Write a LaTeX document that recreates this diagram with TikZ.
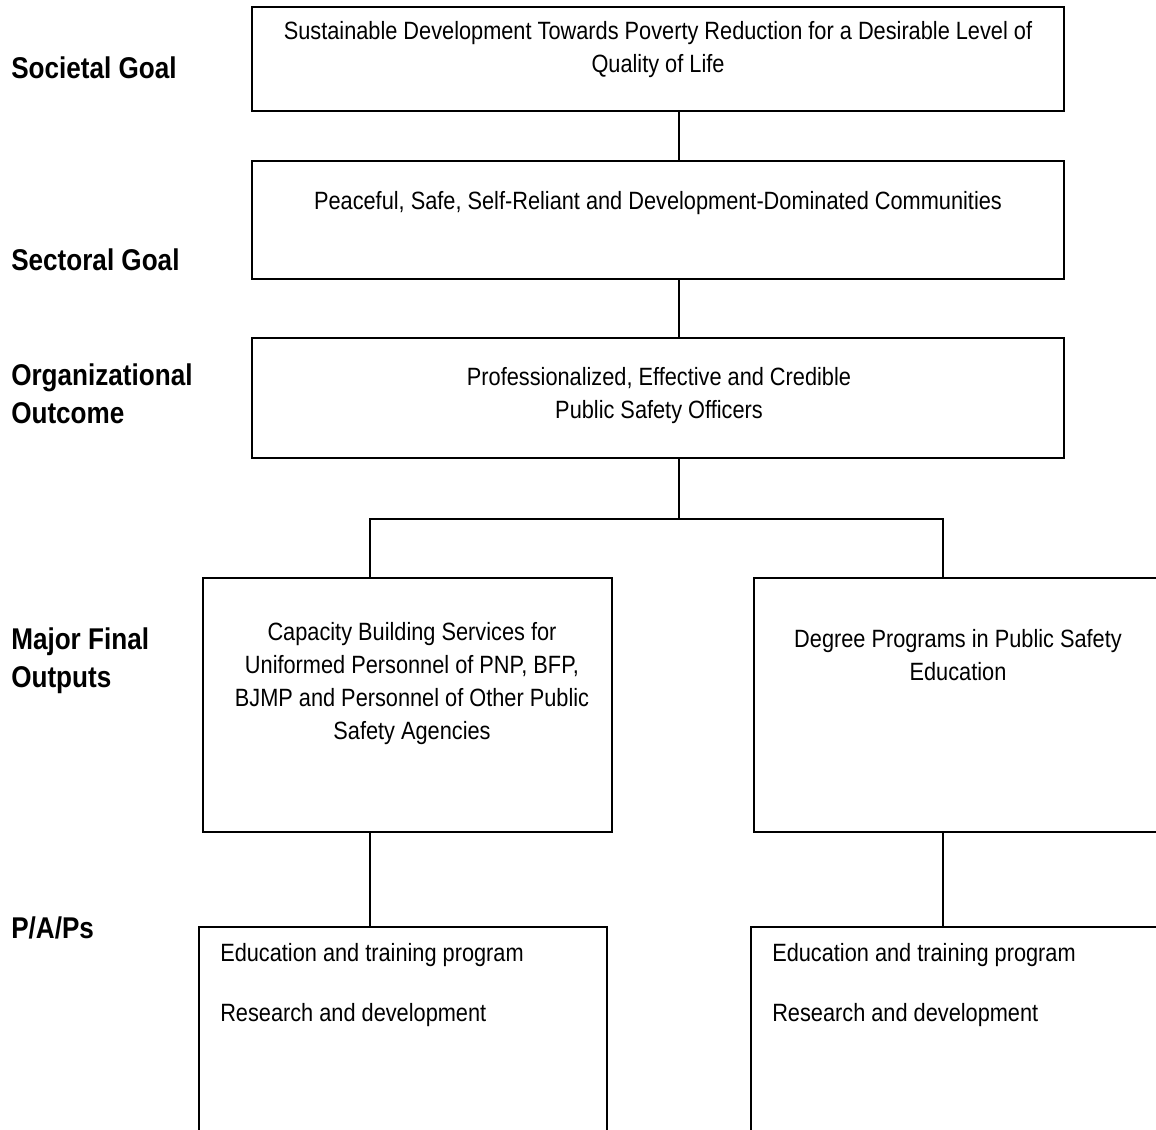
\documentclass[tikz,border=0pt]{standalone}
\usepackage{fontspec}
\setmainfont[FakeStretch=0.87]{Liberation Sans}
\usepackage{tikz}
\usetikzlibrary{positioning}
\tikzset{
  levelbox/.style={draw, line width=1.1pt, inner sep=0pt, outer sep=0pt},
  boxtext/.style={align=center, inner sep=0pt, font=\fontsize{18.75}{24.75}\selectfont},
  listtext/.style={anchor=west, inner sep=0pt, font=\fontsize{18.75}{24.75}\selectfont},
  levellabel/.style={anchor=west, align=left, inner sep=0pt, font=\fontsize{22.5}{28.5}\selectfont\bfseries},
  link/.style={line width=1.1pt}
}
\begin{document}
\begin{tikzpicture}[x=0.75pt, y=-0.75pt]
  \useasboundingbox (0,0) rectangle (1156,1129);
  \clip (0,0) rectangle (1156,1129);
  % level labels
  \node[levellabel] (lsoc) at (11,68) {Societal Goal};
  \node[levellabel] (lsec) at (11,260) {Sectoral Goal};
  \node[levellabel] (lorg) at (11,394) {Organizational\\Outcome};
  \node[levellabel] (lmfo) at (11,661) {Major Final\\Outputs};
  \node[levellabel] (lpap) at (11,928) {P/A/Ps};
  % boxes
  \node[levelbox, minimum width=609pt, minimum height=78pt] (soc) at (658,59) {};
  \node[levelbox, minimum width=609pt, minimum height=88.5pt] (sec) at (658,220) {};
  \node[levelbox, minimum width=609pt, minimum height=90pt] (org) at (658,398) {};
  \node[levelbox, minimum width=306.75pt, minimum height=190.5pt] (cap) at (407.5,705) {};
  \node[levelbox, minimum width=306pt, minimum height=190.5pt] (deg) at (958,705) {};
  \node[levelbox, minimum width=306pt, minimum height=159.75pt] (papl) at (403,1033.5) {};
  \node[levelbox, minimum width=306pt, minimum height=159.75pt] (papr) at (955,1033.5) {};
  % texts
  \node[boxtext] (soctxt) at (658,50) {Sustainable Development Towards Poverty Reduction for a Desirable Level of\\Quality of Life};
  \node[boxtext] (sectxt) at (658,203) {Peaceful, Safe, Self-Reliant and Development-Dominated Communities};
  \node[boxtext] (orgtxt) at (659,396) {Professionalized, Effective and Credible\\Public Safety Officers};
  \node[boxtext] (captxt) at (412,684) {Capacity Building Services for\\Uniformed Personnel of PNP, BFP,\\BJMP and Personnel of Other Public\\Safety Agencies};
  \node[boxtext] (degtxt) at (958,655) {Degree Programs in Public Safety\\Education};
  \node[listtext] (edul) at (220,955) {Education and training program};
  \node[listtext] (resl) at (220,1015) {Research and development};
  \node[listtext] (edur) at (772,955) {Education and training program};
  \node[listtext] (resr) at (772,1015) {Research and development};
  % connectors
  \coordinate (spine) at (679,0);
  \coordinate (bus) at (0,519);
  \coordinate (capdrop) at (370,0);
  \coordinate (degdrop) at (943,0);
  \draw[link] (soc.south -| spine) -- (sec.north -| spine);
  \draw[link] (sec.south -| spine) -- (org.north -| spine);
  \draw[link] (org.south -| spine) -- (bus -| spine);
  \draw[link] (cap.north -| capdrop) -- (bus -| capdrop) -- (bus -| degdrop) -- (deg.north -| degdrop);
  \draw[link] (cap.south -| capdrop) -- (papl.north -| capdrop);
  \draw[link] (deg.south -| degdrop) -- (papr.north -| degdrop);
\end{tikzpicture}
\end{document}
